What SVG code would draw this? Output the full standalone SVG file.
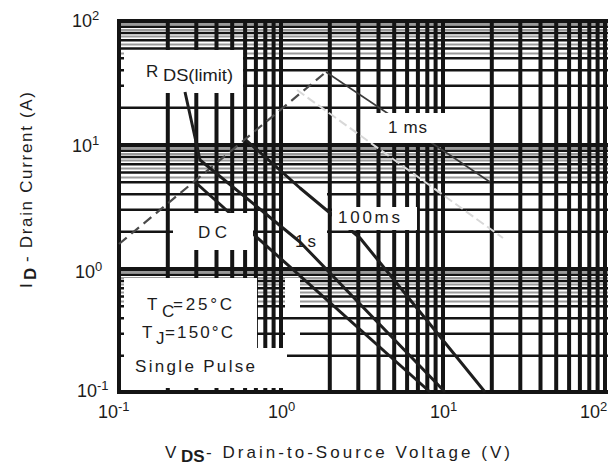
<svg xmlns="http://www.w3.org/2000/svg" width="608" height="465" viewBox="0 0 608 465">
<style>
.hb{stroke:#141414;stroke-width:2.6;fill:none}
.hmaj{stroke:#141414;stroke-width:4;fill:none}
.hg{stroke:#9a9a9a;stroke-width:2;fill:none}
.v{stroke:#141414;stroke-width:4;fill:none}
.wb{fill:#ffffff;stroke:none}
.t{font-family:"Liberation Sans",Arial,sans-serif;fill:#1c1c1c;font-size:17px}
.tk{font-family:"Liberation Sans",Arial,sans-serif;fill:#1c1c1c;font-size:18px}
.sup{font-size:13px}
.curve{fill:none;stroke:#1e1e1e;stroke-width:3;stroke-linejoin:round}
</style>
<rect x="0" y="0" width="608" height="465" fill="#ffffff"/>
<g id="grid">
<path class="hg" d="M119,301.4H608M119,292.4H608M119,284.6H608M119,277.9H608M119,271.9H608M119,177.4H608M119,168.4H608M119,160.6H608M119,153.9H608M119,147.9H608M119,53.4H608M119,44.4H608M119,36.6H608M119,29.9H608M119,23.9H608"/>
<path class="hb" d="M119,355.7H608M119,333.8H608M119,318.3H608M119,306.3H608M119,296.5H608M119,288.2H608M119,281H608M119,274.7H608M119,231.7H608M119,209.8H608M119,194.3H608M119,182.3H608M119,172.5H608M119,164.2H608M119,157H608M119,150.7H608M119,107.7H608M119,85.8H608M119,70.3H608M119,58.3H608M119,48.5H608M119,40.2H608M119,33H608M119,26.7H608"/>
<path class="hmaj" d="M119,269H608M119,145H608M117,21H608M117,392H608"/>
<path class="v" d="M167.8,21V393M196.3,21V393M216.5,21V393M232.2,21V393M245.1,21V393M255.9,21V393M265.3,21V393M273.6,21V393M281,21V393M329.8,21V393M358.3,21V393M378.5,21V393M394.2,21V393M407.1,21V393M417.9,21V393M427.3,21V393M435.6,21V393M443,21V393M491.8,21V393M520.3,21V393M540.5,21V393M556.2,21V393M569.1,21V393M579.9,21V393M589.3,21V393M597.6,21V393M605,21V393"/>
<path class="hmaj" d="M119,19V394"/>
</g>
<g id="under-boxes">
<rect class="wb" x="124" y="50" width="119" height="43"/>
<rect class="wb" x="283" y="185" width="44" height="81"/>
<rect class="wb" x="124" y="278" width="133" height="110"/>
<rect class="wb" x="257" y="348" width="43" height="40"/>
<rect class="wb" x="285" y="278" width="15" height="70"/>
<path class="hb" d="M285,318.3H300M287,355.7H300"/>
</g>
<g id="connectors">
<path d="M119,244L326,72" fill="none" stroke="#4a4a4a" stroke-width="2.2" stroke-dasharray="10 6"/>
<path d="M326,72L490,182" fill="none" stroke="#3a3a3a" stroke-width="1.6"/>
<path d="M297,90L503,238" fill="none" stroke="#d8d8d8" stroke-width="2" stroke-dasharray="9 4"/>
<path class="curve" d="M246,140L300,188L360,238L485,392"/>
<path class="curve" d="M185,92L200,160L300,242L445,392"/>
<path class="curve" d="M195,182L430,392"/>
</g>
<g id="label-boxes">
<rect class="wb" x="368" y="113" width="83" height="30"/>
<rect class="wb" x="173" y="213" width="80" height="37"/>
<rect class="wb" x="332" y="207" width="85" height="23"/>
</g>
<g id="rds-label"><text class="t" x="146" y="77">R</text><text class="t" x="163" y="81" textLength="70" lengthAdjust="spacingAndGlyphs">DS(limit)</text></g>
<g id="label-1ms"><text class="t" x="388" y="133" textLength="39" lengthAdjust="spacing">1 ms</text></g>
<g id="label-100ms"><text class="t" x="338" y="223" textLength="62" lengthAdjust="spacing">100ms</text></g>
<g id="label-1s"><text class="t" x="295" y="247" textLength="21" lengthAdjust="spacing">1s</text></g>
<g id="label-dc"><text class="t" x="198" y="238" textLength="29" lengthAdjust="spacing">D C</text></g>
<g id="label-conditions">
<text class="t" x="147" y="310">T</text><text class="t" x="162" y="317" font-size="14">C</text><text class="t" x="173" y="310" textLength="59" lengthAdjust="spacing">=25°C</text>
<text class="t" x="142" y="338">T</text><text class="t" x="156" y="344" font-size="14">J</text><text class="t" x="165" y="338" textLength="68" lengthAdjust="spacing">=150°C</text>
<text class="t" x="135" y="372" textLength="120" lengthAdjust="spacing">Single Pulse</text>
</g>
<g id="y-ticks">
<text class="tk" x="72" y="27">10<tspan class="sup" dy="-7">2</tspan></text>
<text class="tk" x="72" y="152">10<tspan class="sup" dy="-7">1</tspan></text>
<text class="tk" x="75" y="278">10<tspan class="sup" dy="-7">0</tspan></text>
<text class="tk" x="77" y="397">10<tspan class="sup" dy="-7">-1</tspan></text>
</g>
<g id="x-ticks">
<text class="tk" x="98" y="418">10<tspan class="sup" dy="-7">-1</tspan></text>
<text class="tk" x="268" y="418">10<tspan class="sup" dy="-7">0</tspan></text>
<text class="tk" x="430" y="418">10<tspan class="sup" dy="-7">1</tspan></text>
<text class="tk" x="580" y="418">10<tspan class="sup" dy="-7">2</tspan></text>
</g>
<g id="x-title">
<text class="t" x="165" y="458">V</text>
<text class="t" x="181" y="462" font-size="11" font-weight="bold">DS</text>
<text class="t" x="206" y="458" textLength="304" lengthAdjust="spacing">- Drain-to-Source Voltage (V)</text>
</g>
<g id="y-title">
<text class="t" transform="translate(32,288) rotate(-90)">I</text>
<text class="t" transform="translate(36,280) rotate(-90)" font-size="11" font-weight="bold">D</text>
<text class="t" transform="translate(32,262) rotate(-90)" textLength="170" lengthAdjust="spacing">- Drain Current (A)</text>
</g>
</svg>
